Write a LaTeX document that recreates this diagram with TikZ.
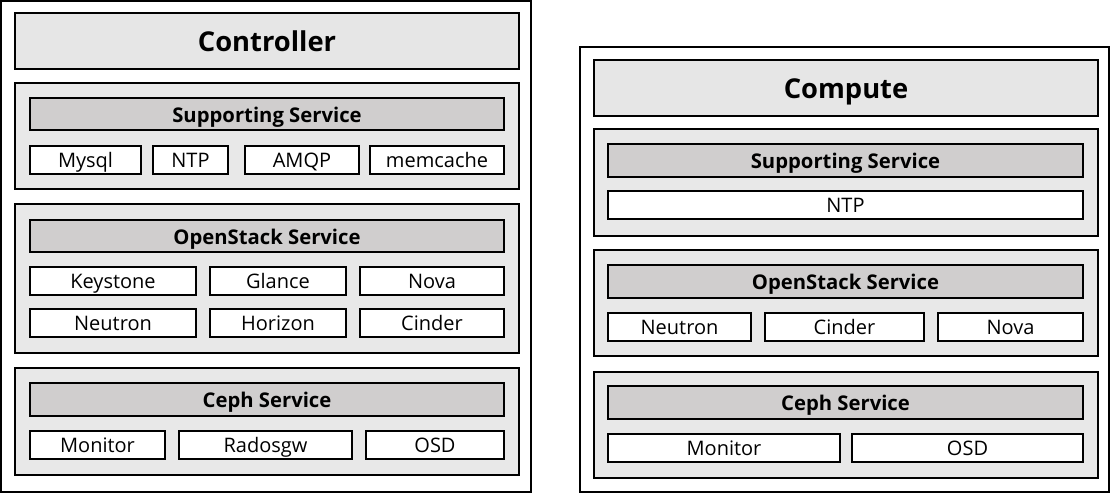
\documentclass[tikz,border=0pt]{standalone}
\usepackage{fontspec}
\setmainfont{Open Sans}
\definecolor{secfill}{RGB}{232,232,232}
\definecolor{titlefill}{RGB}{230,230,230}
\definecolor{headfill}{RGB}{208,206,206}
\tikzset{
  base/.style={draw=black, line width=1.5pt, inner sep=0pt, outer sep=0pt},
  outerbox/.style={base, fill=white},
  titlebox/.style={base, fill=titlefill, font=\fontsize{20.5}{24}\selectfont\bfseries,
    text height=17.2pt, text depth=1.2pt},
  secbox/.style={base, fill=secfill},
  headbox/.style={base, fill=headfill, font=\fontsize{15.2}{18}\selectfont\bfseries,
    text height=12.9pt, text depth=0.9pt},
  itembox/.style={base, fill=white, font=\fontsize{15}{18}\selectfont,
    text height=12.8pt, text depth=0.9pt},
}
\newcommand\bx[7]{%
  \pgfmathsetmacro\bw{(#5-#3)*0.75}%
  \pgfmathsetmacro\bh{(#6-#4)*0.75}%
  \node[#2, minimum width=\bw pt, minimum height=\bh pt] (#1) at ({(#3+#5)/2},{(#4+#6)/2}) {#7};}
\begin{document}
\begin{tikzpicture}[x=0.75pt, y=-0.75pt]
\useasboundingbox (0,0) rectangle (1111,494);
% ---------- Controller ----------
\bx{ctrl}{outerbox}{1}{1}{531}{492}{}
\bx{ctrltitle}{titlebox}{15}{13}{519}{69}{Controller}
\bx{csup}{secbox}{15}{83}{519}{189}{}
\bx{csuph}{headbox}{30}{98}{504}{130}{Supporting Service}
\bx{cmysql}{itembox}{30}{146}{141}{174}{Mysql}
\bx{cntp}{itembox}{153}{146}{228}{174}{NTP}
\bx{camqp}{itembox}{245}{146}{359}{174}{AMQP}
\bx{cmem}{itembox}{370}{146}{504}{174}{memcache}
\bx{cos}{secbox}{15}{204}{519}{353}{}
\bx{cosh}{headbox}{30}{220}{504}{252}{OpenStack Service}
\bx{ckey}{itembox}{30}{267}{196}{295}{Keystone}
\bx{cgla}{itembox}{210}{267}{346}{295}{Glance}
\bx{cnova}{itembox}{360}{267}{504}{295}{Nova}
\bx{cneu}{itembox}{30}{309}{196}{337}{Neutron}
\bx{chor}{itembox}{210}{309}{346}{337}{Horizon}
\bx{ccin}{itembox}{360}{309}{504}{337}{Cinder}
\bx{cceph}{secbox}{15}{368}{519}{475}{}
\bx{ccephh}{headbox}{30}{383}{504}{416}{Ceph Service}
\bx{cmon}{itembox}{30}{431}{165}{459}{Monitor}
\bx{crad}{itembox}{179}{431}{352}{459}{Radosgw}
\bx{cosd}{itembox}{366}{431}{504}{459}{OSD}
% ---------- Compute ----------
\bx{comp}{outerbox}{580}{47}{1109}{492}{}
\bx{comptitle}{titlebox}{594}{60}{1098}{116}{Compute}
\bx{psup}{secbox}{594}{129}{1098}{236}{}
\bx{psuph}{headbox}{608}{144}{1083}{177}{Supporting Service}
\bx{pntp}{itembox}{608}{191}{1083}{219}{NTP}
\bx{pos}{secbox}{594}{250}{1098}{356}{}
\bx{posh}{headbox}{608}{265}{1083}{298}{OpenStack Service}
\bx{pneu}{itembox}{608}{313}{751}{341}{Neutron}
\bx{pcin}{itembox}{765}{313}{924}{341}{Cinder}
\bx{pnova}{itembox}{938}{313}{1083}{341}{Nova}
\bx{pceph}{secbox}{594}{372}{1098}{478}{}
\bx{pcephh}{headbox}{608}{386}{1083}{419}{Ceph Service}
\bx{pmon}{itembox}{608}{434}{840}{462}{Monitor}
\bx{posd}{itembox}{852}{434}{1083}{462}{OSD}
\end{tikzpicture}
\end{document}
